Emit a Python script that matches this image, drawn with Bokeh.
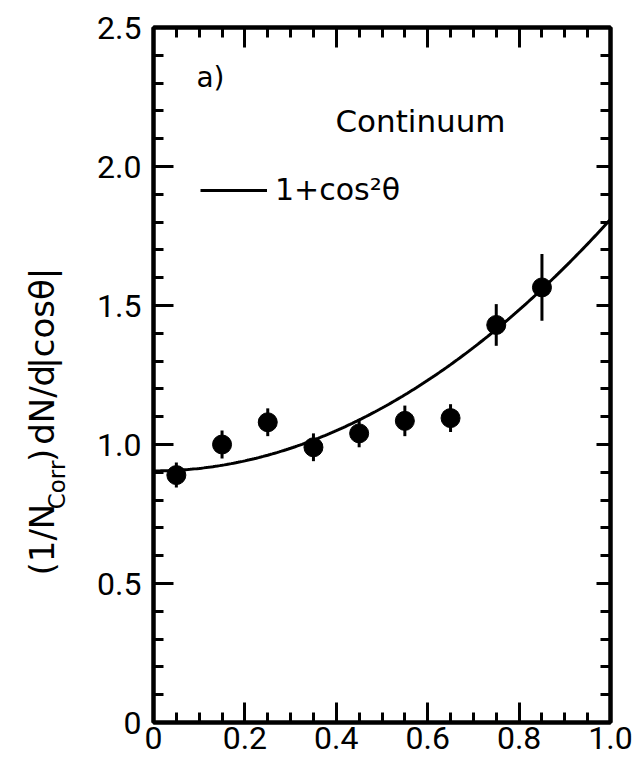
import numpy as np
from bokeh.plotting import figure
from bokeh.layouts import row
from bokeh.models import (LinearAxis, FixedTicker, Label, Legend, LegendItem,
                          Range1d, ColumnDataSource)
from bokeh.core.properties import value
from bokeh.embed import file_html
from bokeh.resources import INLINE

# ---- data ----
cos_bins = [0.05, 0.15, 0.25, 0.35, 0.45, 0.55, 0.65, 0.75, 0.85]
rate = [0.89, 1.00, 1.08, 0.99, 1.04, 1.085, 1.095, 1.43, 1.565]
rate_err = [0.045, 0.05, 0.05, 0.05, 0.05, 0.055, 0.05, 0.075, 0.12]
fit_norm = 0.905  # normalisation of the 1+cos^2(theta) curve

x_major = [0, 0.2, 0.4, 0.6, 0.8, 1.0]
x_minor = [0.05, 0.1, 0.15, 0.25, 0.3, 0.35, 0.45, 0.5, 0.55,
           0.65, 0.7, 0.75, 0.85, 0.9, 0.95]
x_tick_labels = ["0", "0.2", "0.4", "0.6", "0.8", "1.0"]
y_major = [0, 0.5, 1.0, 1.5, 2.0, 2.5]
y_minor = [0.1, 0.2, 0.3, 0.4, 0.6, 0.7, 0.8, 0.9, 1.1, 1.2, 1.3, 1.4,
           1.6, 1.7, 1.8, 1.9, 2.1, 2.2, 2.3, 2.4]
y_tick_labels = ["0", "0.5", "1.0", "1.5", "2.0", "2.5"]

# y-axis title pieces (text, font size); "Corr" is a subscript
ytitle_text = ["(1/N", "Corr", ")", "dN/d", "|cosθ|"]
ytitle_size = ["34px", "23px", "34px", "34px", "34px"]

TICK_FONT = "Roboto"
TEXT_FONT = "DejaVu Sans"
H = 766
TITLE_W = 93

src = ColumnDataSource(dict(
    x=cos_bins, y=rate,
    lo=[r - e for r, e in zip(rate, rate_err)],
    hi=[r + e for r, e in zip(rate, rate_err)],
))

x_fit = np.linspace(0.0, 1.0, 201)
fit_src = ColumnDataSource(dict(x=x_fit, y=fit_norm * (1.0 + x_fit ** 2)))

p = figure(width=547, height=H, output_backend="svg", toolbar_location=None,
           x_range=Range1d(0, 1), y_range=Range1d(0, 2.5),
           min_border_left=60, min_border_right=30,
           min_border_top=27, min_border_bottom=44)
p.grid.visible = False
p.outline_line_color = "black"
p.outline_line_width = 4
p.background_fill_color = "white"
p.border_fill_color = "white"

def style(ax, show_labels):
    ax.axis_line_width = 4
    ax.axis_line_color = "black"
    ax.major_tick_in = 20
    ax.major_tick_out = 0
    ax.minor_tick_in = 10
    ax.minor_tick_out = 0
    ax.major_tick_line_width = 3
    ax.minor_tick_line_width = 3
    ax.major_tick_line_color = "black"
    ax.minor_tick_line_color = "black"
    if show_labels:
        ax.major_label_text_font = TICK_FONT
        ax.major_label_text_font_size = "32px"
        ax.major_label_text_color = "black"
    else:
        ax.major_label_text_color = None
        ax.major_label_text_font_size = "2px"
        ax.major_label_standoff = 0

xb = p.xaxis[0]
xb.ticker = FixedTicker(ticks=x_major, minor_ticks=x_minor)
xb.major_label_overrides = {v: s for v, s in zip(x_major, x_tick_labels)}
style(xb, True)
xb.major_label_standoff = 4

yl = p.yaxis[0]
yl.ticker = FixedTicker(ticks=y_major, minor_ticks=y_minor)
yl.major_label_overrides = {v: s for v, s in zip(y_major, y_tick_labels)}
style(yl, True)
yl.major_label_standoff = 12

xa = LinearAxis(ticker=FixedTicker(ticks=x_major, minor_ticks=x_minor))
style(xa, False)
p.add_layout(xa, "above")
yr = LinearAxis(ticker=FixedTicker(ticks=y_major, minor_ticks=y_minor))
style(yr, False)
yr.major_tick_in = 14
p.add_layout(yr, "right")

# theory curve
fit_r = p.line("x", "y", source=fit_src, line_color="black", line_width=3)

# data with errors
p.segment(x0="x", y0="lo", x1="x", y1="hi", source=src,
          line_color="black", line_width=3)
p.scatter("x", "y", source=src, size=19, fill_color="black",
          line_color="black")

# legend for curve
leg = Legend(items=[LegendItem(label="1+cos²θ", renderers=[fit_r])],
             location=(47, 515), orientation="vertical",
             glyph_width=67, glyph_height=30, label_standoff=8,
             padding=0, margin=0, spacing=0,
             border_line_color=None, background_fill_alpha=0,
             label_text_font=TEXT_FONT, label_text_font_size="30px",
             label_text_color="black")
p.add_layout(leg, "center")

p.add_layout(Label(x=0.094, y=2.26, text="a)", text_font=TEXT_FONT,
                   text_font_size="28px", text_color="black"))
p.add_layout(Label(x=0.398, y=2.10, text="Continuum", text_font=TEXT_FONT,
                   text_font_size="31px", text_color="black"))

# ---- narrow left panel carrying the rotated y-axis title ----
t = figure(width=TITLE_W, height=H, output_backend="svg",
           toolbar_location=None, x_range=Range1d(0, TITLE_W),
           y_range=Range1d(0, H), min_border=0,
           x_axis_location=None, y_axis_location=None)
t.grid.visible = False
t.outline_line_color = None
t.background_fill_color = "white"
t.border_fill_color = "white"

# pixel placement of each piece (baseline x, start y measured from bottom)
title_x = [41, 56, 41, 41, 41]
title_y = [H - 604, H - 531, H - 479, H - 460, H - 376]
for txt, fs, tx, ty in zip(ytitle_text, ytitle_size, title_x, title_y):
    t.text(x=[tx], y=[ty], text=[txt], angle=np.pi / 2,
           text_font=value(TEXT_FONT), text_font_size=fs,
           text_color="black", text_align="left",
           text_baseline="alphabetic")

layout = row(t, p, spacing=0)
open("out.html", "w").write(file_html(layout, INLINE))
